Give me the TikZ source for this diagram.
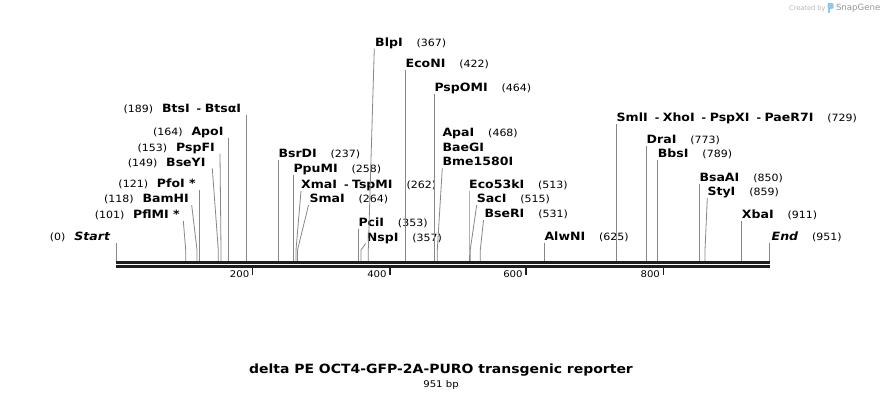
\documentclass[tikz,border=0pt]{standalone}
\usepackage{fontspec}
\setmainfont{DejaVu Sans}
\newfontfamily\labfam{DejaVu Sans}[FakeStretch=1.1]
\newcommand\fB{\labfam\bfseries\fontsize{11.4}{13}\selectfont}
\newcommand\fR{\labfam\fontsize{10}{12}\selectfont}
\newcommand\fT{\labfam\fontsize{9.2}{11}\selectfont}
\newcommand\dsh{{\fR\hspace{7pt}-\hspace{3.5pt}}}
\definecolor{cutgray}{RGB}{135,135,135}
\definecolor{bbcol}{RGB}{30,30,30}
\definecolor{sgblue}{RGB}{140,200,235}
\definecolor{sggray}{RGB}{150,150,150}
\tikzset{
  nm/.style={font=\fB, inner sep=0pt, text=black},
  num/.style={font=\fR, inner sep=0pt, text=black},
  cut/.style={draw=cutgray, line width=0.8pt},
  bbline/.style={draw=bbcol, line width=2.6pt},
  tickline/.style={draw=bbcol, line width=1.4pt},
  ticklab/.style={font=\fT, inner sep=0pt, anchor=base east},
}
% left-side label: id, name, number, name right x, baseline, line top x, site x
\newcommand\siteL[7]{%
  \node[nm,anchor=base east] (n#1) at (#4,#5) {#2};
  \node[num,anchor=base east] (p#1) at ([xshift=-8.5pt]n#1.base west) {#3};
  \coordinate (t#1) at (#6,#5+2.5);
  \coordinate (b#1) at (#7,250);
  \coordinate (s#1) at (#7,261);
  \draw[cut] (t#1) -- (b#1) -- (s#1);
}
% right-side label: id, name, number, name left x, baseline, line top x, site x
\newcommand\siteR[7]{%
  \node[nm,anchor=base west] (n#1) at (#4,#5) {#2};
  \node[num,anchor=base west] (p#1) at ([xshift=13.5pt]n#1.base east) {#3};
  \coordinate (t#1) at (#6,#5+2.5);
  \coordinate (b#1) at (#7,250);
  \coordinate (s#1) at (#7,261);
  \draw[cut] (t#1) -- (b#1) -- (s#1);
}
\begin{document}
\begin{tikzpicture}[x=1pt,y=-1pt]
\useasboundingbox (0,0) rectangle (886,400);
\fill[white] (0,0) rectangle (886,400);

% logo
\node[font=\fontsize{6.6}{8}\selectfont, text=sggray!70, inner sep=0pt, anchor=base west] (created) at (789,10) {Created by};
\fill[sgblue, rounded corners=1.2pt] (827.5,3.2) rectangle (833.5,8.8);
\fill[sgblue] (827.5,3.2) rectangle (830,13);
\node[font=\fontsize{8.6}{10}\selectfont, text=sggray, inner sep=0pt, anchor=base west] (snapgene) at (835.8,10.8) {SnapGene};

% cut site lines and labels (left side)
\siteL{a}{\itshape Start}{(0)}{110.3}{240.7}{116.5}{116.5}
\siteL{b}{PflMI *}{(101)}{180}{218.3}{183.3}{185.7}
\siteL{c}{BamHI}{(118)}{189}{202.7}{191.7}{197}
\siteL{d}{PfoI *}{(121)}{196}{187.7}{199.3}{199.3}
\siteL{e}{BseYI}{(149)}{205.7}{166}{212.3}{218.3}
\siteL{f}{PspFI}{(153)}{215}{151}{220}{221}
\siteL{g}{ApoI}{(164)}{223.7}{135.7}{228.7}{228.7}
\siteL{h}{BtsI\dsh BtsαI}{(189)}{241.3}{112.7}{246.7}{246.7}

% right side
\siteR{i}{BsrDI}{(237)}{278.3}{157.7}{278.3}{278.3}
\siteR{j}{PpuMI}{(258)}{293.3}{172.7}{293.3}{293.3}
\siteR{k}{XmaI\dsh TspMI}{(262)}{301}{188.3}{301}{296}
\siteR{l}{SmaI}{(264)}{309.3}{202.7}{308.5}{297.5}
\siteR{m}{PciI}{(353)}{358.3}{226}{358.3}{358.3}
\siteR{n}{NspI}{(357)}{366.7}{241}{365.7}{361}
\siteR{o}{BlpI}{(367)}{375}{46}{374.3}{368.3}
\siteR{q}{EcoNI}{(422)}{405.5}{67.7}{405.5}{405.5}
\siteR{r}{PspOMI}{(464)}{434.3}{91}{434.3}{434.3}
% ApaI / BaeGI / Bme1580I share one site
\node[nm,anchor=base west] (nApa) at (442.3,136) {ApaI};
\node[num,anchor=base west] (pApa) at ([xshift=13.5pt]nApa.base east) {(468)};
\node[nm,anchor=base west] (nBae) at (442.3,151) {BaeGI};
\node[nm,anchor=base west] (nBme) at (442.3,165.5) {Bme1580I};
\coordinate (tApa) at (442.3,168);
\coordinate (bApa) at (437.3,250);
\coordinate (sApa) at (437.3,261);
\draw[cut] (tApa) -- (bApa) -- (sApa);
\siteR{u}{Eco53kI}{(513)}{469}{188.3}{469}{469}
\siteR{v}{SacI}{(515)}{476.7}{202.7}{476.7}{470.2}
\siteR{w}{BseRI}{(531)}{484.3}{217.7}{483.5}{480.3}
\siteR{x}{AlwNI}{(625)}{544.3}{240}{544.3}{544.3}
\siteR{y}{SmlI\dsh XhoI\dsh PspXI\dsh PaeR7I}{(729)}{616.5}{121.7}{616.7}{616.7}
\siteR{z}{DraI}{(773)}{646.5}{143.3}{646.7}{646.7}
\siteR{aa}{BbsI}{(789)}{657.7}{157.3}{657.7}{657.7}
\siteR{ab}{BsaAI}{(850)}{699.3}{181}{699.3}{699.3}
\siteR{ac}{StyI}{(859)}{707.3}{195.7}{707.3}{705}
\siteR{ad}{XbaI}{(911)}{741.7}{218.3}{741.7}{741.7}
\siteR{ae}{\itshape End}{(951)}{771.5}{240.7}{769.3}{769.3}

% backbone
\coordinate (bbL1) at (116,262.4);
\coordinate (bbR1) at (770,262.4);
\coordinate (bbL2) at (116,266.7);
\coordinate (bbR2) at (770,266.7);
\draw[bbline] (bbL1) -- (bbR1);
\draw[bbline] (bbL2) -- (bbR2);

% ticks
\foreach \tx/\tl in {252.7/200,390/400,526/600,663.3/800}{
  \coordinate (tkA\tl) at (\tx,266);
  \coordinate (tkB\tl) at (\tx,275);
  \draw[tickline] (tkA\tl) -- (tkB\tl);
  \node[ticklab] (tk\tl) at (\tx-3.2,277) {\tl};
}

% title
\node[font=\labfam\bfseries\fontsize{12.7}{14}\selectfont, inner sep=0pt, anchor=base] (title) at (441,373) {delta PE OCT4-GFP-2A-PURO transgenic reporter};
\node[font=\labfam\fontsize{9.2}{11}\selectfont, inner sep=0pt, anchor=base] (len) at (441,387) {951 bp};
\end{tikzpicture}
\end{document}
